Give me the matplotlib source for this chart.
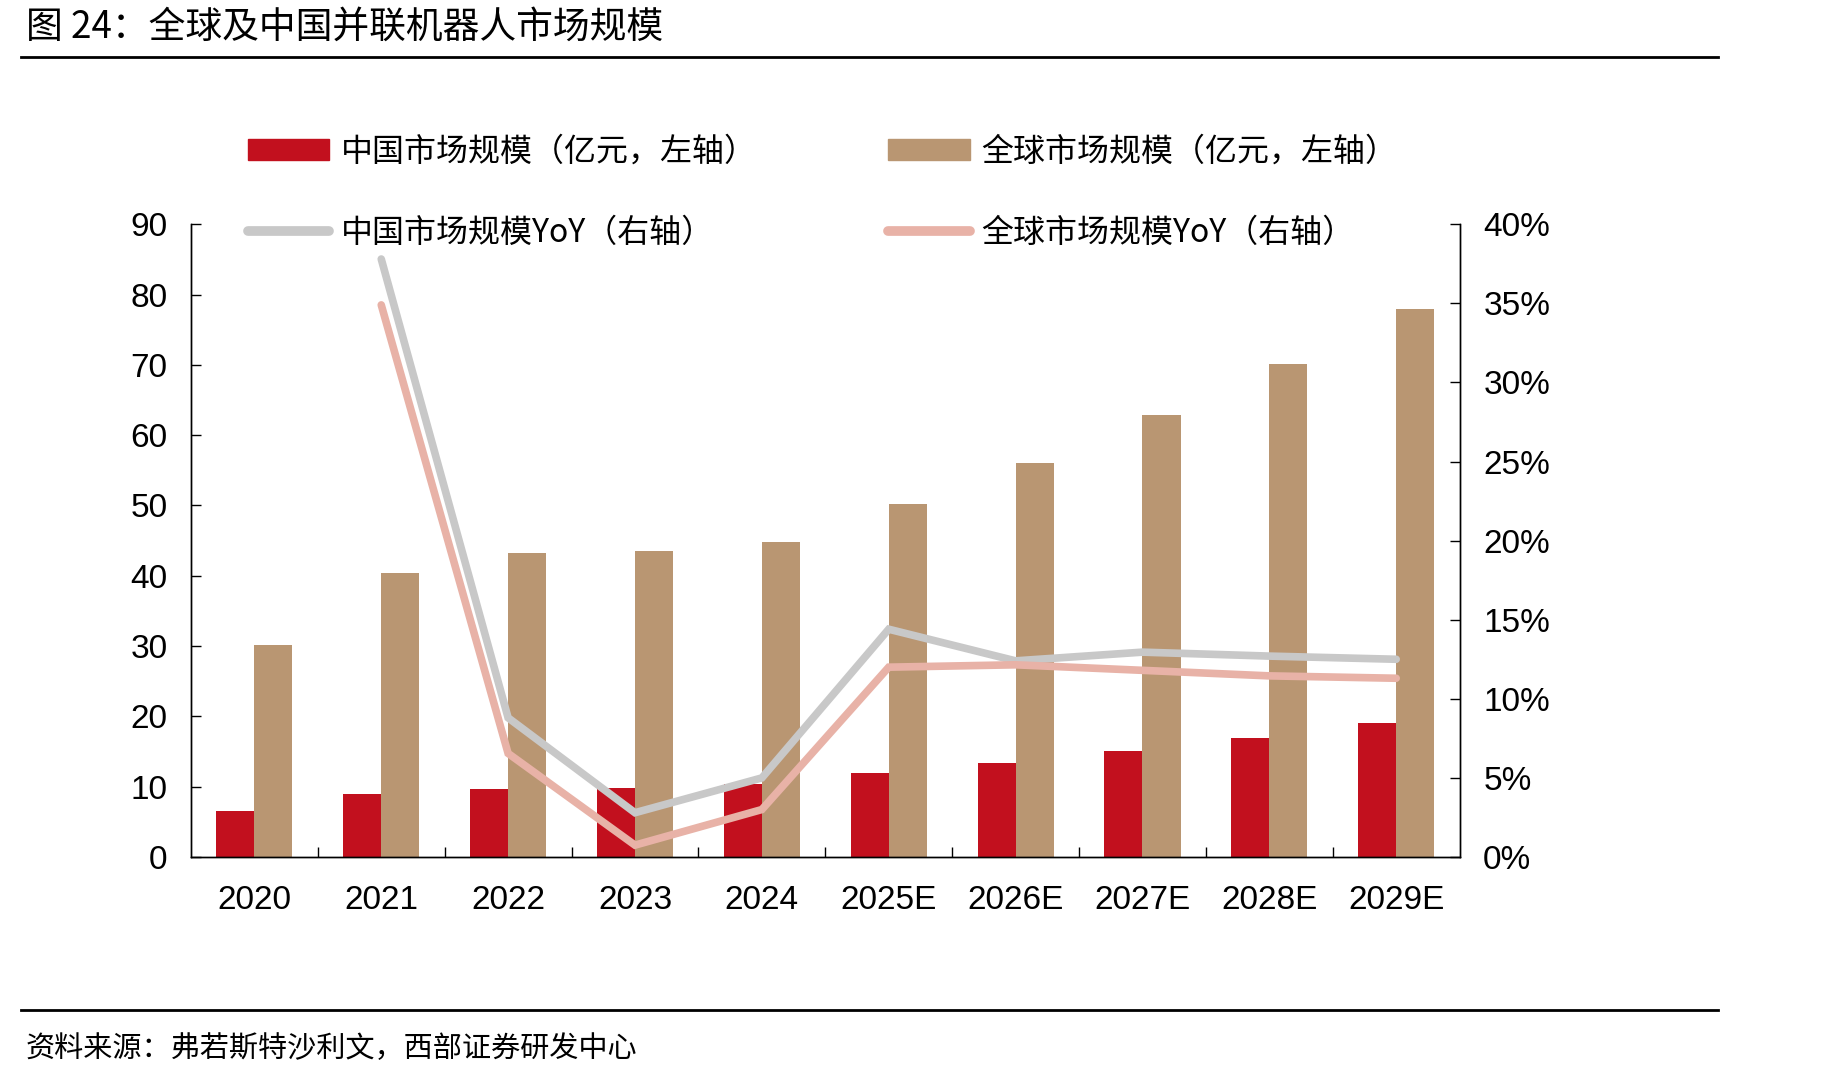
import numpy as np
import matplotlib
matplotlib.use('Agg')
import matplotlib.pyplot as plt
from matplotlib.lines import Line2D
from matplotlib.patches import Patch
from matplotlib.ticker import FuncFormatter, MultipleLocator

plt.rcParams['font.family'] = ['Liberation Sans', 'Noto Sans CJK SC', 'DejaVu Sans']
CJK = ['Noto Sans CJK SC', 'DejaVu Sans']

# data
years = ['2020', '2021', '2022', '2023', '2024', '2025E', '2026E', '2027E', '2028E', '2029E']
china_size = [6.6, 9.0, 9.7, 9.8, 10.4, 11.9, 13.4, 15.1, 16.9, 19.1]
global_size = [30.1, 40.4, 43.3, 43.5, 44.8, 50.2, 56.1, 62.8, 70.1, 77.9]
china_yoy = [np.nan, 37.8, 8.8, 2.8, 5.0, 14.4, 12.4, 12.95, 12.7, 12.5]
global_yoy = [np.nan, 34.9, 6.55, 0.75, 3.0, 12.0, 12.15, 11.8, 11.45, 11.3]

RED = '#C2101E'
TAN = '#B99672'
GREY = '#C8C8C8'
PINK = '#E8B2A7'

fig = plt.figure(figsize=(18.36, 10.78), dpi=100)
ax = fig.add_axes([0.104, 0.205, 0.691, 0.587])
ax2 = ax.twinx()

x = np.arange(len(years))
w = 0.3
ax.bar(x - w / 2, china_size, w, color=RED, zorder=2)
ax.bar(x + w / 2, global_size, w, color=TAN, zorder=2)

ax2.plot(x, china_yoy, color=GREY, lw=5.5, solid_capstyle='round', solid_joinstyle='miter')
ax2.plot(x, global_yoy, color=PINK, lw=5.5, solid_capstyle='round', solid_joinstyle='miter')

# axes styling
ax.set_xlim(-0.5, len(years) - 0.5)
ax.set_ylim(0, 90)
ax2.set_ylim(0, 40)
ax.yaxis.set_major_locator(MultipleLocator(10))
ax2.yaxis.set_major_locator(MultipleLocator(5))
ax2.yaxis.set_major_formatter(FuncFormatter(lambda v, p: '%d%%' % round(v)))

ax.set_xticks(x)
ax.set_xticklabels(years)
ax.set_xticks(np.arange(0.5, len(years) - 1), minor=True)
ax.tick_params(axis='x', which='major', length=0, pad=20, labelsize=24)
ax.tick_params(axis='x', which='minor', direction='in', length=7, width=1)
ax.tick_params(axis='y', direction='in', length=7, width=1, pad=17, labelsize=24)
ax2.tick_params(axis='y', direction='in', length=7, width=1, pad=17, labelsize=24)

for a in (ax, ax2):
    a.spines['top'].set_visible(False)
    for s in ('left', 'right', 'bottom'):
        a.spines[s].set_linewidth(1.0)
        a.spines[s].set_color('black')

# legend
handles = [
    Patch(color=RED),
    Line2D([], [], color=GREY, lw=7, solid_capstyle='round'),
    Patch(color=TAN),
    Line2D([], [], color=PINK, lw=7, solid_capstyle='round'),
]
labels = [
    '中国市场规模（亿元，左轴）',
    '中国市场规模YoY（右轴）',
    '全球市场规模（亿元，左轴）',
    '全球市场规模YoY（右轴）',
]
fig.legend(handles, labels, ncol=2, loc='upper left',
           bbox_to_anchor=(0.1263, 0.889), frameon=False, borderpad=0,
           handlelength=2.55, handleheight=0.6, handletextpad=0.37,
           columnspacing=4.1, labelspacing=1.55,
           prop={'family': CJK, 'size': 23})

# title, rules and source note
fig.text(0.014, 0.975, '图 24：全球及中国并联机器人市场规模', family=CJK,
         fontsize=26.5, va='center', ha='left')
fig.add_artist(Line2D([0.0115, 0.936], [0.947, 0.947], color='black', lw=2,
                      transform=fig.transFigure))
fig.add_artist(Line2D([0.0115, 0.936], [0.063, 0.063], color='black', lw=2,
                      transform=fig.transFigure))
fig.text(0.014, 0.027, '资料来源：弗若斯特沙利文，西部证券研发中心', family=CJK,
         fontsize=21, va='center', ha='left')

fig.savefig('out.png', dpi=100)
